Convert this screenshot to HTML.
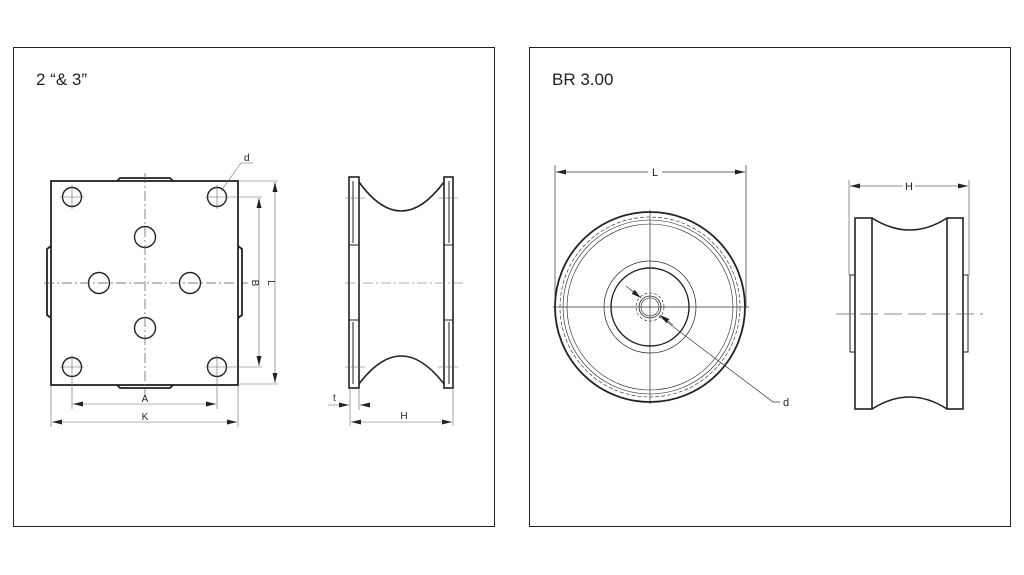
<!DOCTYPE html><html><head><style>body{margin:0;background:#fff}svg{display:block}text{font-family:"Liberation Sans",sans-serif;fill:#222}</style></head><body>
<svg width="1024" height="575" viewBox="0 0 1024 575" xmlns="http://www.w3.org/2000/svg">
<defs><marker id="a" markerWidth="10" markerHeight="6" refX="10" refY="3" orient="auto-start-reverse" markerUnits="userSpaceOnUse"><path d="M0,0.5L10,3L0,5.5z" fill="#222"/></marker></defs>
<g fill="none" stroke="#222">
<rect x="13.5" y="47.5" width="481" height="479" stroke-width="1"/>
<rect x="529.5" y="47.5" width="481" height="479" stroke-width="1"/>
</g>
<text x="36" y="85" font-size="17">2 “&amp; 3”</text>
<text x="552" y="85" font-size="17">BR 3.00</text>
<!-- left plate -->
<g fill="none" stroke="#222" stroke-width="1.8">
<path d="M117,181 L120,178 L170,178 L173,181"/>
<path d="M117,385 L120,388 L170,388 L173,385"/>
<path d="M51,246 L47,249 L47,315 L51,318"/>
<path d="M238,246 L242,249 L242,315 L238,318"/>
<rect x="51" y="181" width="187" height="204"/>
<circle cx="72" cy="197" r="9.5" stroke-width="1.4"/><circle cx="217" cy="197" r="9.5" stroke-width="1.4"/>
<circle cx="72" cy="367" r="9.5" stroke-width="1.4"/><circle cx="217" cy="367" r="9.5" stroke-width="1.4"/>
<circle cx="145" cy="237" r="10.5" stroke-width="1.4"/><circle cx="145" cy="328" r="10.5" stroke-width="1.4"/>
<circle cx="99" cy="283" r="10.5" stroke-width="1.4"/><circle cx="190" cy="283" r="10.5" stroke-width="1.4"/>
</g>
<g fill="none" stroke="#555" stroke-width="0.7" stroke-dasharray="10,3,2,3">
<line x1="145" y1="173" x2="145" y2="395"/><line x1="44" y1="283" x2="248" y2="283"/>
</g>
<g fill="none" stroke="#666" stroke-width="0.6">
<path d="M60,197h24M72,185v24M205,197h57M217,185v24M60,367h24M72,355v12M205,367h57M217,355v24M72,367v42M217,367v42M51,385v42M238,385v42M238,181h40M238,384h40"/>
<line x1="259" y1="198" x2="259" y2="366" marker-start="url(#a)" marker-end="url(#a)"/>
<line x1="275" y1="182" x2="275" y2="383" marker-start="url(#a)" marker-end="url(#a)"/>
<line x1="73" y1="404" x2="216" y2="404" marker-start="url(#a)" marker-end="url(#a)"/>
<line x1="52" y1="422" x2="237" y2="422" marker-start="url(#a)" marker-end="url(#a)"/>
<path d="M221,191L241,163H253"/>
</g>
<text x="145" y="402" font-size="10" text-anchor="middle">A</text>
<text x="145" y="420" font-size="10" text-anchor="middle">K</text>
<text x="244" y="161" font-size="10">d</text>
<text transform="translate(252,283) rotate(90)" font-size="10" text-anchor="middle">B</text>
<text transform="translate(268,283) rotate(90)" font-size="10" text-anchor="middle">L</text>
<!-- left side view -->
<g fill="none" stroke="#222" stroke-width="1.6">
<rect x="349" y="177" width="10" height="211"/>
<rect x="444" y="177" width="9" height="211"/>
<path d="M359,182 Q401,240 444,182"/>
<path d="M359,384 Q401,328 444,384"/>
<path d="M353,181V243M353,322V384M449,181V243M449,322V384M349,245h10M349,320h10M444,245h9M444,320h9" stroke-width="1"/>
</g>
<g stroke="#666" stroke-width="0.6" fill="none">
<line x1="345" y1="283" x2="466" y2="283" stroke-dasharray="10,3,2,3"/>
<path d="M345,198h20M438,198h20M345,367h20M438,367h20M350,388v38M359,388v22M453,388v38"/>
<line x1="328" y1="405" x2="349" y2="405" marker-end="url(#a)"/><line x1="370" y1="405" x2="360" y2="405" marker-end="url(#a)"/>
<line x1="351" y1="422" x2="452" y2="422" marker-start="url(#a)" marker-end="url(#a)"/>
</g>
<text x="333" y="401" font-size="10">t</text>
<text x="404" y="419" font-size="10" text-anchor="middle">H</text>
<!-- right circle -->
<g fill="none" stroke="#222">
<circle cx="650" cy="307" r="95" stroke-width="1.8"/>
<circle cx="650" cy="307" r="90" stroke-width="0.6" stroke-dasharray="4,2"/>
<circle cx="650" cy="307" r="87" stroke-width="0.6"/>
<circle cx="650" cy="307" r="83" stroke-width="0.6"/>
<circle cx="650" cy="307" r="46" stroke-width="0.7"/>
<circle cx="650" cy="307" r="39" stroke-width="1.4"/>
<circle cx="650" cy="307" r="14" stroke-width="0.6" stroke-dasharray="3,2"/>
<circle cx="650" cy="307" r="11" stroke-width="0.8"/>
<circle cx="650" cy="307" r="9" stroke-width="0.6"/>
</g>
<g stroke="#333" stroke-width="0.7" fill="none">
<path d="M650,210V404M553,307H749M555,165V307M746,165V307"/>
<line x1="556" y1="172" x2="648" y2="172" marker-start="url(#a)"/><line x1="662" y1="172" x2="745" y2="172" marker-end="url(#a)"/>
<line x1="626" y1="286" x2="641" y2="298" marker-end="url(#a)"/>
<path d="M659,316L773,402H780"/>
<line x1="673" y1="325" x2="660" y2="315" marker-end="url(#a)"/>
</g>
<text x="655" y="176" font-size="11" text-anchor="middle">L</text>
<text x="783" y="406" font-size="11">d</text>
<!-- right side view -->
<g fill="none" stroke="#222" stroke-width="1.6">
<rect x="855" y="218" width="17" height="191"/>
<rect x="947" y="218" width="16" height="191"/>
<path d="M872,218 Q910,242 947,218"/>
<path d="M872,409 Q910,385 947,409"/>
<path d="M855,275H850V352H855M963,275H968V352H963" stroke-width="1"/>
</g>
<g stroke="#666" stroke-width="0.7" fill="none">
<line x1="836" y1="314" x2="983" y2="314" stroke-dasharray="18,6"/>
<path d="M849,180V275M969,180V275"/>
<line x1="850" y1="186" x2="903" y2="186" marker-start="url(#a)"/><line x1="915" y1="186" x2="968" y2="186" marker-end="url(#a)"/>
</g>
<text x="909" y="190" font-size="11" text-anchor="middle">H</text>
</svg></body></html>
